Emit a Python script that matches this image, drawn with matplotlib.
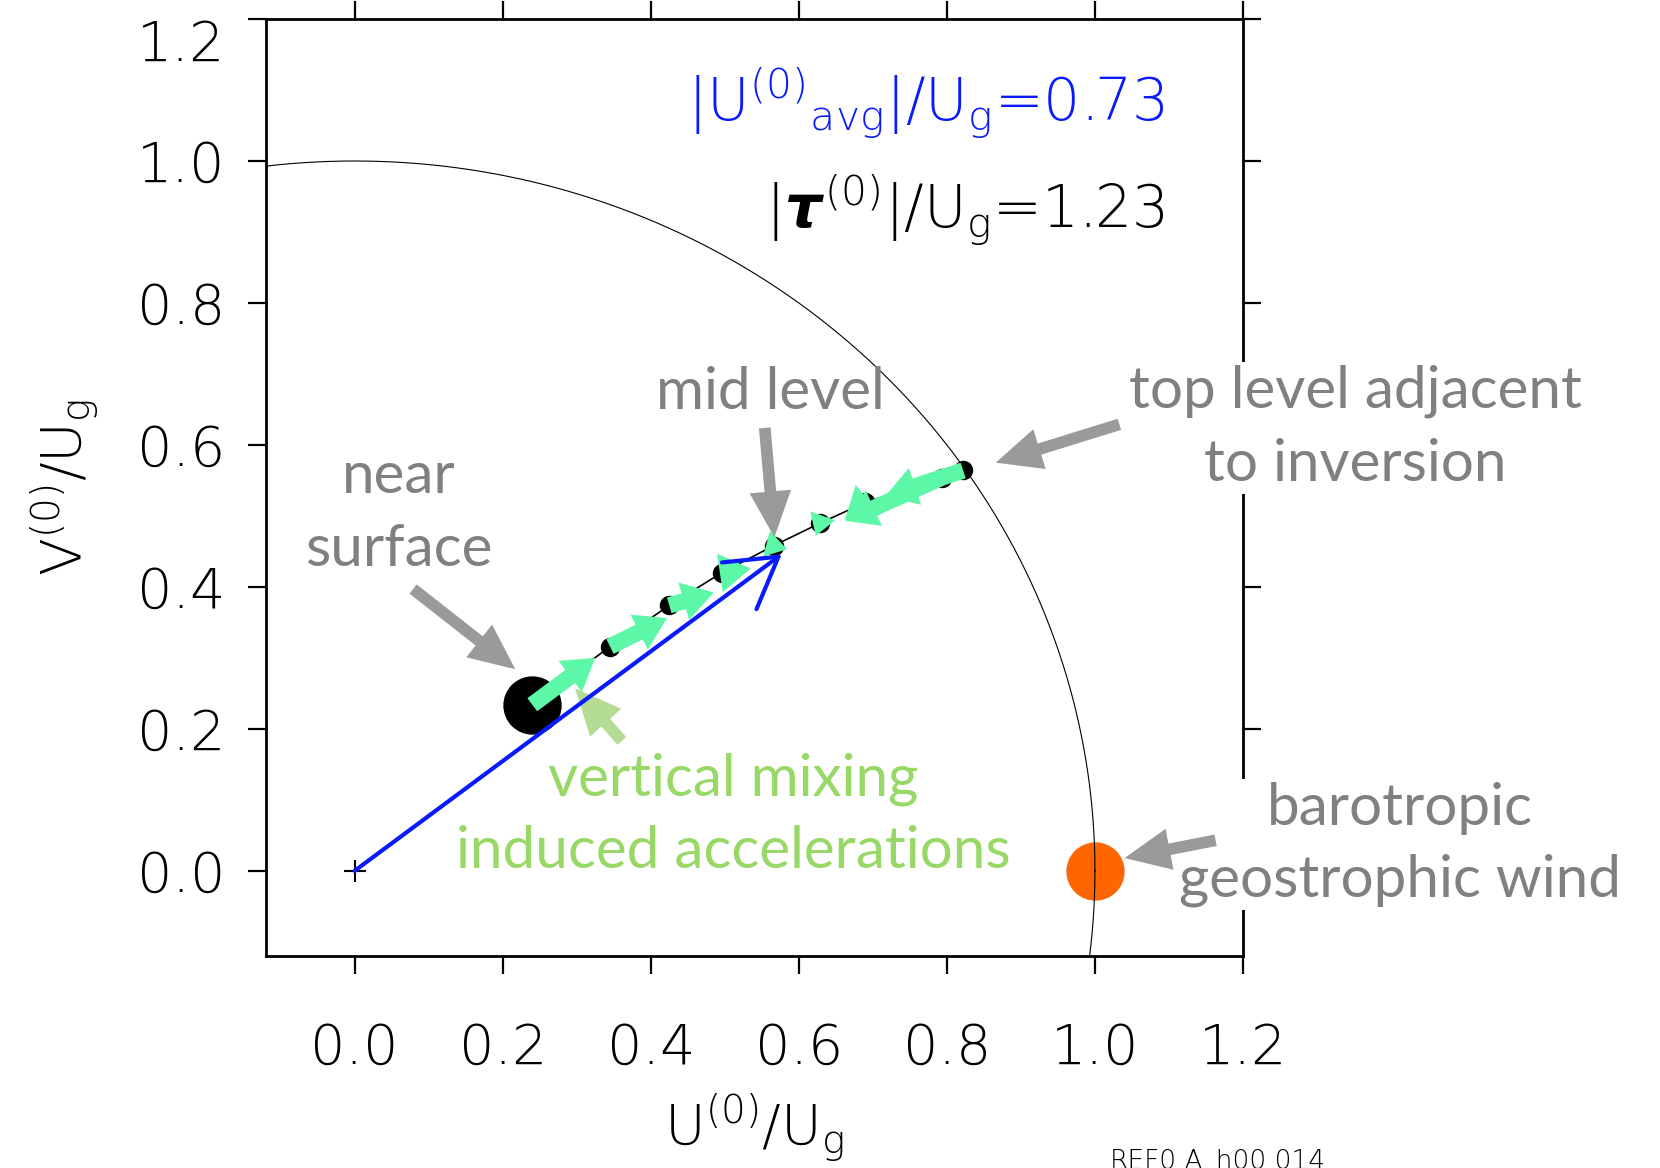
import numpy as np
import matplotlib.pyplot as plt

plt.rcParams['font.weight'] = 'light'
plt.rcParams['mathtext.fontset'] = 'custom'
plt.rcParams['mathtext.rm'] = 'DejaVu Sans:light'
plt.rcParams['mathtext.sf'] = 'DejaVu Sans:light'
plt.rcParams['mathtext.it'] = 'DejaVu Sans:italic:bold'

# wind at each model level, normalised by Ug (surface level first)
level_u = [0.240, 0.345, 0.425, 0.496, 0.566, 0.629, 0.690, 0.793, 0.822]
level_v = [0.234, 0.316, 0.374, 0.420, 0.458, 0.490, 0.519, 0.554, 0.564]
# vertical mixing induced acceleration at each level
mix_du = [0.085, 0.077, 0.060, 0.039, 0.018, -0.006, -0.028, -0.130, -0.105]
mix_dv = [0.066, 0.040, 0.018, 0.006, -0.005, -0.018, -0.025, -0.061, -0.036]
# vertically averaged wind and geostrophic wind
u_avg, v_avg = 0.577, 0.446
u_geo, v_geo = 1.0, 0.0
u_avg_mag = 0.73
tau_mag = 1.23
ticks = [0.0, 0.2, 0.4, 0.6, 0.8, 1.0, 1.2]
tick_labels = ['0.0', '0.2', '0.4', '0.6', '0.8', '1.0', '1.2']

gray = '#808080'
arrow_gray = '#9a9a9a'
mix_green = '#5cf8a8'
label_green = '#97d867'
blue = '#0a1aff'
label_font = 'Lato'

fig = plt.figure(figsize=(16.6, 11.68), dpi=100)
ax = fig.add_axes([0.1601, 0.1815, 0.5887, 0.8022])
ax.set_xlim(-0.12, 1.2)
ax.set_ylim(-0.12, 1.2)

# unit circle (|U| = Ug)
th = np.linspace(0, 2 * np.pi, 721)
ax.plot(np.cos(th), np.sin(th), color='black', lw=0.8, zorder=2)

ax.plot(level_u, level_v, color='black', lw=1.2, zorder=3)
ax.plot(level_u[1:], level_v[1:], 'o', color='black', ms=13, zorder=4)
ax.plot(level_u[0], level_v[0], 'o', color='black', ms=41, zorder=4)
ax.plot([0], [0], '+', color='black', ms=16, mew=1.5, zorder=4)
ax.plot(u_geo, v_geo, 'o', color='#ff6600', ms=42, mec='none', zorder=1.5)

# arrow length in pixels sets the head size of the short ones
px_per_u = ax.transData.transform((1, 0))[0] - ax.transData.transform((0, 0))[0]
px_per_v = ax.transData.transform((0, 1))[1] - ax.transData.transform((0, 0))[1]
for u, v, du, dv in zip(level_u, level_v, mix_du, mix_dv):
    length = np.hypot(du * px_per_u, dv * px_per_v)
    ax.annotate('', xy=(u + du, v + dv), xytext=(u, v),
                arrowprops=dict(arrowstyle='simple,head_length=0.8,head_width=1.0,tail_width=0.42',
                                mutation_scale=min(28, max(19, 1.1 * length)), color=mix_green,
                                lw=0, shrinkA=0, shrinkB=0), zorder=5)

ax.annotate('', xy=(u_avg, v_avg), xytext=(0, 0),
            arrowprops=dict(arrowstyle='->,head_length=1.6,head_width=0.95',
                            mutation_scale=22, color=blue, lw=3,
                            shrinkA=0, shrinkB=0), zorder=7)

ax.text(1.094, 1.081, r'$|\mathrm{U^{(0)}}{}_{\mathrm{avg}}|/\mathrm{U_g}$=%.2f' % u_avg_mag,
        color=blue, fontsize=42, ha='right', va='center')
ax.text(1.094, 0.931, r'$|\tau^{(0)}|/\mathrm{U_g}$=%.2f' % tau_mag,
        color='black', fontsize=42, ha='right', va='center')

# labels with pointers
def pointer(start, end, color):
    ax.annotate('', xy=end, xytext=start, annotation_clip=False,
                arrowprops=dict(arrowstyle='simple,head_length=1.1,head_width=1.0,tail_width=0.28',
                                mutation_scale=30, color=color, lw=0,
                                shrinkA=0, shrinkB=0), zorder=6)

lab = dict(fontsize=42, family=label_font, fontweight='normal', ha='center', va='center',
           linespacing=1.45)
ax.text(0.060, 0.504, 'near\nsurface', color=gray, **lab)
pointer((0.079, 0.397), (0.217, 0.284), arrow_gray)
ax.text(0.561, 0.674, 'mid level', color=gray, **lab)
pointer((0.554, 0.624), (0.567, 0.470), arrow_gray)
ax.text(1.352, 0.624, 'top level adjacent\nto inversion', color=gray, clip_on=False,
        bbox=dict(fc='white', ec='none', pad=2), **lab)
pointer((1.033, 0.629), (0.866, 0.575), arrow_gray)
ax.text(1.412, 0.037, 'barotropic\ngeostrophic wind', color=gray, clip_on=False,
        bbox=dict(fc='white', ec='none', pad=2), **lab)
pointer((1.163, 0.043), (1.040, 0.018), arrow_gray)
ax.text(0.511, 0.078, 'vertical mixing\ninduced accelerations', color=label_green, **lab)
pointer((0.361, 0.183), (0.298, 0.257), '#b4dc94')

for side in ['left', 'right', 'top', 'bottom']:
    ax.spines[side].set_linewidth(2)
ax.set_xticks(ticks, tick_labels)
ax.set_yticks(ticks, tick_labels)
ax.tick_params(direction='out', length=13, width=1.6, top=True, right=True, labelsize=40)
ax.tick_params(axis='x', pad=34)
ax.tick_params(axis='y', pad=16)
ax.get_yticklabels()[-1].set_va('top')
ax.set_xlabel(r'$\mathrm{U^{(0)}/U_g}$', fontsize=40, labelpad=12)
ax.set_ylabel(r'$\mathrm{V^{(0)}/U_g}$', fontsize=40, labelpad=26)

fig.text(1218 / 1660, -0.001, 'REF0.A_h00.014', fontsize=19, ha='center', va='baseline')

fig.savefig('out.png', dpi=100)
